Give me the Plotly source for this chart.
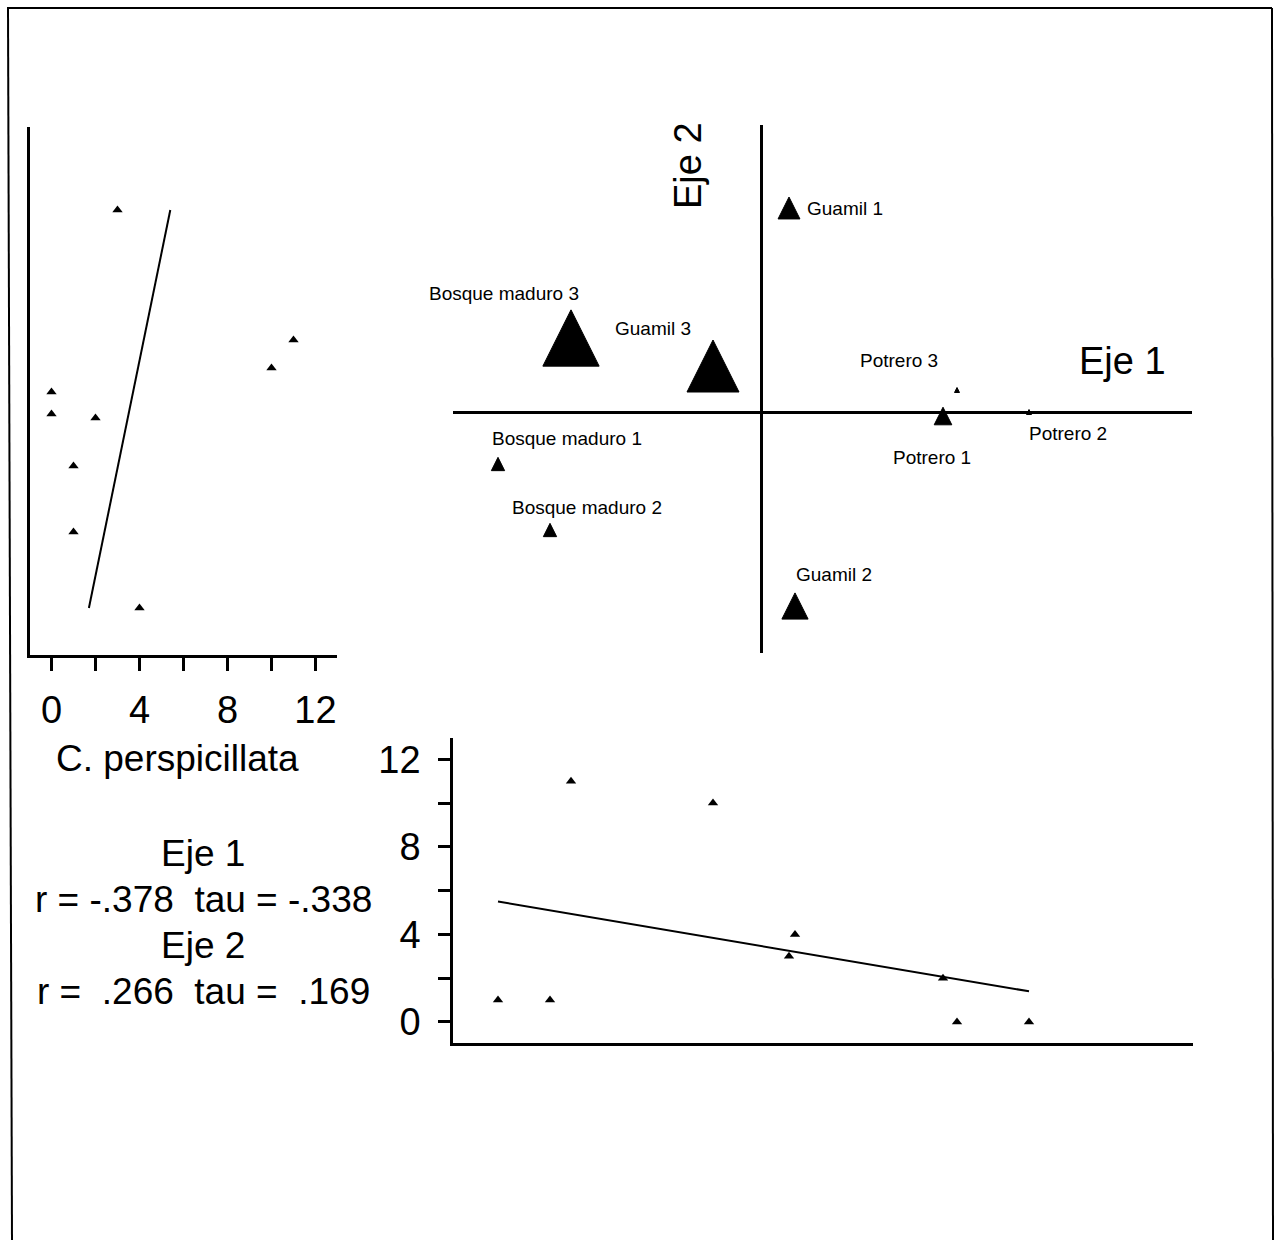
import plotly.graph_objects as go

# Sites of the NMS ordination and their scores on the two axes
sites = ["Bosque maduro 1", "Bosque maduro 2", "Bosque maduro 3",
         "Guamil 1", "Guamil 2", "Guamil 3",
         "Potrero 1", "Potrero 2", "Potrero 3"]
eje1 = [-1.315, -1.055, -0.95, 0.14, 0.17, -0.24, 0.91, 1.34, 0.98]
eje2 = [-0.26, -0.59, 0.37, 1.02, -0.97, 0.23, -0.02, 0.0, 0.11]

# Abundance of C. perspicillata at each site
abundancia = [1, 1, 11, 3, 4, 10, 2, 0, 0]

# Fitted lines: abundance vs Eje 1 and vs Eje 2
fit_eje1_x = [-1.315, 1.34]
fit_eje1_y = [5.5, 1.4]
fit_eje2_abund = [1.7, 5.4]
fit_eje2_y = [-0.97, 1.02]

# Statistics shown beside the panels
stats_lines = ["Eje 1", "r = -.378  tau = -.338", "Eje 2", "r =  .266  tau =  .169"]
side_ticks = [0, 2, 4, 6, 8, 10, 12]
side_ticktext = ["0", "", "4", "", "8", "", "12"]

W, H = 1275, 1240


def fx(px):
    return px / W


def fy(py):
    return 1 - py / H


FONT = "Liberation Sans, Arial, sans-serif"
NARROW = "Liberation Sans Narrow, Arial Narrow, Liberation Sans, sans-serif"

fig = go.Figure()

# Main ordination: invisible hover points (triangles drawn as shapes below)
fig.add_trace(go.Scatter(
    x=eje1, y=eje2, mode="markers", text=sites, hoverinfo="text",
    marker=dict(size=12, color="black", opacity=0), xaxis="x", yaxis="y",
    showlegend=False))

# Left panel: abundance vs Eje 2
fig.add_trace(go.Scatter(
    x=abundancia, y=eje2, mode="markers", text=sites,
    marker=dict(symbol="triangle-up", size=9, color="black"),
    xaxis="x2", yaxis="y2", showlegend=False))
fig.add_trace(go.Scatter(
    x=fit_eje2_abund, y=fit_eje2_y, mode="lines",
    line=dict(color="black", width=2), xaxis="x2", yaxis="y2",
    showlegend=False, hoverinfo="skip"))

# Bottom panel: abundance vs Eje 1
fig.add_trace(go.Scatter(
    x=eje1, y=abundancia, mode="markers", text=sites,
    marker=dict(symbol="triangle-up", size=9, color="black"),
    xaxis="x3", yaxis="y3", showlegend=False))
fig.add_trace(go.Scatter(
    x=fit_eje1_x, y=fit_eje1_y, mode="lines",
    line=dict(color="black", width=2), xaxis="x3", yaxis="y3",
    showlegend=False, hoverinfo="skip"))

shapes = []


def tri_width(a):
    return 5 if a == 0 else 9 + 4.3 * a


# Triangles sized by abundance in the ordination space
for x, y, a in zip(eje1, eje2, abundancia):
    w = tri_width(a)
    h = w
    shapes.append(dict(
        type="path", xref="x", yref="y", xsizemode="pixel", ysizemode="pixel",
        xanchor=x, yanchor=y,
        path=f"M {-w/2},{-h/2} L {w/2},{-h/2} L 0,{h/2} Z",
        fillcolor="black", line=dict(color="black", width=1)))

# Page frame
frame = [((7, 8), (1272, 8)), ((8, 8), (12, 1240)), ((1272, 8), (1273, 1240))]
for (x0, y0), (x1, y1) in frame:
    shapes.append(dict(type="line", xref="paper", yref="paper",
                       x0=fx(x0), y0=fy(y0), x1=fx(x1), y1=fy(y1),
                       line=dict(color="black", width=2)))

annotations = []
# Site label placement (anchor, pixel offsets) relative to each site
label_place = {
    "Bosque maduro 1": ("center", 69, 26), "Bosque maduro 2": ("center", 37, 23),
    "Bosque maduro 3": ("center", -67, 45), "Guamil 1": ("left", 16, 0),
    "Guamil 2": ("center", 39, 32), "Guamil 3": ("center", -60, 38),
    "Potrero 1": ("center", -11, -41), "Potrero 2": ("center", 39, -21),
    "Potrero 3": ("center", -58, 30),
}
for s, x, y in zip(sites, eje1, eje2):
    anchor, dx, dy = label_place[s]
    annotations.append(dict(
        x=x, y=y, xref="x", yref="y", text=s, showarrow=False,
        xanchor=anchor, yanchor="middle",
        xshift=dx, yshift=dy, font=dict(family=NARROW, size=19, color="black")))

annotations.append(dict(x=fx(1122), y=fy(361), xref="paper", yref="paper",
                        text="Eje 1", showarrow=False, xanchor="center", yanchor="middle",
                        font=dict(family=FONT, size=38, color="black")))
annotations.append(dict(x=fx(688), y=fy(165), xref="paper", yref="paper",
                        text="Eje 2", showarrow=False, textangle=-90,
                        xanchor="center", yanchor="middle",
                        font=dict(family=FONT, size=38, color="black")))

# Axis name for the left panel, centred under its tick labels
annotations.append(dict(x=fx(177), y=fy(758), xref="paper", yref="paper",
                        text="C. perspicillata", showarrow=False,
                        xanchor="center", yanchor="middle",
                        font=dict(family=FONT, size=37, color="black")))

stat_y = [853, 899, 945, 991]
for t, py in zip(stats_lines, stat_y):
    annotations.append(dict(x=fx(203), y=fy(py), xref="paper", yref="paper",
                            text=t.replace(" ", "\u00a0"), showarrow=False,
                            xanchor="center", yanchor="middle",
                            font=dict(family=FONT, size=37, color="black")))

axis_common = dict(showgrid=False, zeroline=False, color="black")

fig.update_layout(
    width=W, height=H, margin=dict(l=0, r=0, t=0, b=0),
    paper_bgcolor="white", plot_bgcolor="rgba(0,0,0,0)",
    font=dict(family=FONT, color="black"),
    showlegend=False,
    xaxis=dict(domain=[fx(453), fx(1192)], range=[-1.54, 2.155],
               showgrid=False, zeroline=True, zerolinecolor="black", zerolinewidth=2.5,
               showticklabels=False, ticks="", showline=False, anchor="y"),
    yaxis=dict(domain=[fy(653), fy(125)], range=[-1.205, 1.435],
               showgrid=False, zeroline=True, zerolinecolor="black", zerolinewidth=2.5,
               showticklabels=False, ticks="", showline=False, anchor="x"),
    xaxis2=dict(domain=[fx(30), fx(337)], range=[-0.977, 12.977], anchor="y2",
                showline=True, linecolor="black", linewidth=2.5,
                ticks="outside", ticklen=13, tickwidth=2.5, tickcolor="black",
                tickvals=side_ticks, ticktext=side_ticktext,
                ticklabelstandoff=7,
                tickfont=dict(family=FONT, size=38, color="black"),
                **axis_common),
    yaxis2=dict(domain=[fy(655), fy(127)], range=[-1.205, 1.435], anchor="x2",
                showline=True, linecolor="black", linewidth=2.5,
                ticks="", showticklabels=False, **axis_common),
    xaxis3=dict(domain=[fx(453), fx(1193)], range=[-1.54, 2.16], anchor="y3",
                showline=True, linecolor="black", linewidth=2.5,
                ticks="", showticklabels=False, **axis_common),
    yaxis3=dict(domain=[fy(1043), fy(738)], range=[-0.96, 12.97], anchor="x3",
                showline=True, linecolor="black", linewidth=2.5,
                ticks="outside", ticklen=12, tickwidth=2.5, tickcolor="black",
                tickvals=side_ticks, ticktext=side_ticktext,
                ticklabelstandoff=10,
                tickfont=dict(family=FONT, size=38, color="black"),
                **axis_common),
    shapes=shapes,
    annotations=annotations,
)

fig.write_html("out.html")
